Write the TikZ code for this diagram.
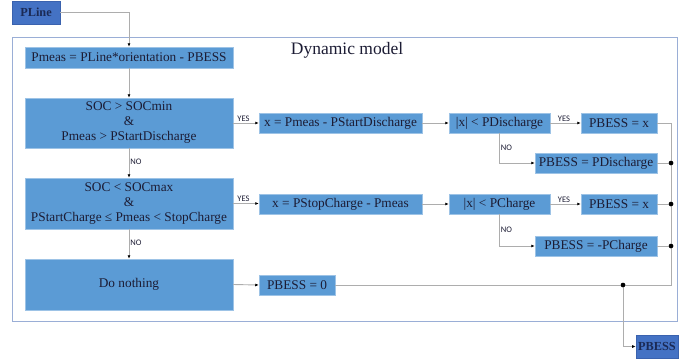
\documentclass[tikz,border=0pt]{standalone}
\usepackage{fontspec}
\setmainfont{Liberation Serif}
\newfontfamily\labfont{Carlito}
\usetikzlibrary{arrows.meta}
\definecolor{boxblue}{HTML}{5B9BD5}
\definecolor{boxedge}{HTML}{9DC3E6}
\definecolor{ioblue}{HTML}{4472C4}
\definecolor{ioedge}{HTML}{3A62AE}
\definecolor{txt}{HTML}{1C1C34}
\definecolor{iotxt}{HTML}{1B2A55}
\definecolor{linegrey}{HTML}{ADADAD}
\definecolor{frameblue}{HTML}{9AAED6}
\tikzset{
  box/.style={draw=boxedge, line width=0.5pt, fill=boxblue, text=txt, inner sep=0pt,
    font=\fontsize{13.3}{15}\selectfont, align=center},
  iobox/.style={draw=ioedge, line width=0.6pt, fill=ioblue, text=iotxt, inner sep=0pt,
    font=\fontsize{12.3}{14}\selectfont\bfseries},
  conn/.style={draw=linegrey, line width=0.9pt},
  arr/.style={-{Latex[color=black,length=3.5pt,width=3pt]}},
  lab/.style={font=\labfont\fontsize{8.5}{9}\selectfont, text=txt, inner sep=1pt},
  jdot/.style={circle, fill=black, inner sep=0pt, minimum size=4.5pt},
}
\begin{document}
\begin{tikzpicture}[x=1pt,y=-1pt]
\useasboundingbox (0,0) rectangle (691,360);
% frame
\draw[frameblue, line width=0.9pt] (12,37) rectangle (677,321);
\node[font=\fontsize{17.5}{19}\selectfont, text=txt] (title) at (347,50) {Dynamic model};
% io
\node[iobox, minimum width=48pt, minimum height=23pt] (pline) at (36,12.5) {PLine};
\node[iobox, minimum width=42pt, minimum height=23pt] (pbess) at (657,346.5) {PBESS};
% left column
\node[box, minimum width=208pt, minimum height=21pt] (pmeas) at (129,57.5) {Pmeas = PLine*orientation - PBESS};
\node[box, minimum width=208pt, minimum height=50pt] (soc1) at (129,123) {SOC > SOCmin\\\&\\Pmeas > PStartDischarge};
\node[box, minimum width=208pt, minimum height=51pt] (soc2) at (129,203.5) {SOC < SOCmax\\\&\\PStartCharge ≤ Pmeas < StopCharge};
\node[box, minimum width=208pt, minimum height=51pt] (none) at (129,284.5) {Do nothing};
% discharge row
\node[box, minimum width=163pt, minimum height=20pt] (xd) at (340.5,123) {x = Pmeas - PStartDischarge};
\node[box, minimum width=101pt, minimum height=20pt] (absd) at (499.5,123) {|x| < PDischarge};
\node[box, minimum width=76pt, minimum height=20pt] (pbx1) at (619,123) {PBESS = x};
\node[box, minimum width=122pt, minimum height=20pt] (pbd) at (596,163) {PBESS = PDischarge};
% charge row
\node[box, minimum width=163pt, minimum height=20pt] (xc) at (340.5,204) {x = PStopCharge - Pmeas};
\node[box, minimum width=101pt, minimum height=20pt] (absc) at (499.5,204) {|x| < PCharge};
\node[box, minimum width=76pt, minimum height=20pt] (pbx2) at (619,204) {PBESS = x};
\node[box, minimum width=122pt, minimum height=20pt] (pbc) at (596,246) {PBESS = -PCharge};
% nothing row
\node[box, minimum width=76pt, minimum height=20pt] (pb0) at (297,285) {PBESS = 0};
% coordinates
\coordinate (r1) at (671,123);
\coordinate (rb) at (671,285);
\node[jdot] (j1) at (671,163) {};
\node[jdot] (j2) at (671,204) {};
\node[jdot] (j3) at (671,246) {};
\node[jdot] (j0) at (623,285) {};
% connectors
\draw[conn,arr] (pline.east) -| (pmeas.north);
\draw[conn,arr] (pmeas.south) -- (soc1.north);
\draw[conn,arr] (soc1.south) -- node[lab, anchor=west, pos=0.45] {NO} (soc2.north);
\draw[conn,arr] (soc2.south) -- node[lab, anchor=west, pos=0.45] {NO} (none.north);
\draw[conn,arr] (soc1.east) -- node[lab, anchor=south, pos=0.4] {YES} (xd.west);
\draw[conn,arr] (soc2.east) -- node[lab, anchor=south, pos=0.4] {YES} (soc2.east -| xc.west);
\draw[conn,arr] (xd.east) -- (absd.west);
\draw[conn,arr] (xc.east) -- (absc.west);
\draw[conn,arr] (absd.east) -- node[lab, anchor=south, pos=0.45] {YES} (pbx1.west);
\draw[conn,arr] (absc.east) -- node[lab, anchor=south, pos=0.45] {YES} (pbx2.west);
\draw[conn,arr] (absd.south) |- node[lab, anchor=west, pos=0.25] {NO} (pbd.west);
\draw[conn,arr] (absc.south) |- node[lab, anchor=west, pos=0.25] {NO} (pbc.west);
\draw[conn,arr] (none.east) -- (pb0.west);
\draw[conn] (pbx1.east) -- (r1) -- (rb) -- (j0.center);
\draw[conn] (pbd.east) -- (j1.center);
\draw[conn] (pbx2.east) -- (j2.center);
\draw[conn] (pbc.east) -- (j3.center);
\draw[conn] (pb0.east) -- (j0.center);
\draw[conn,arr] (j0.center) |- (pbess.west);
\node[jdot] at (j1) {};
\node[jdot] at (j2) {};
\node[jdot] at (j3) {};
\node[jdot] at (j0) {};
\end{tikzpicture}
\end{document}
